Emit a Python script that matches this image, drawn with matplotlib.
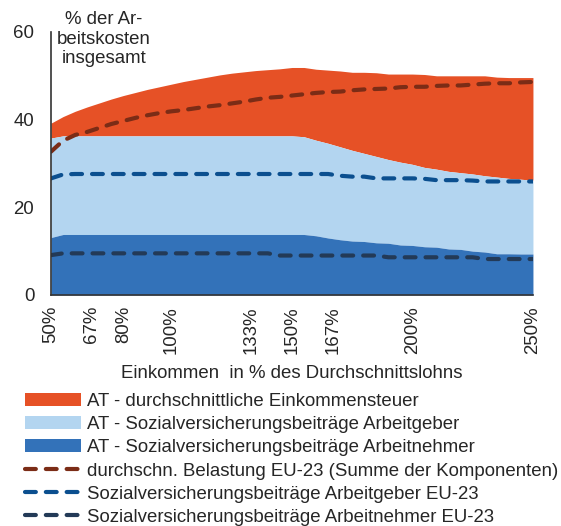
import numpy as np
import matplotlib
matplotlib.use("Agg")
import matplotlib.pyplot as plt

plt.rcParams['font.family'] = ['Liberation Sans', 'DejaVu Sans']

# income level in % of average wage
income = [50, 55, 60, 65, 70, 75, 80, 85, 90, 95, 100, 105, 110, 115, 120,
          125, 130, 135, 140, 145, 150, 155, 160, 165, 170, 175, 180, 185,
          190, 195, 200, 205, 210, 215, 220, 225, 230, 235, 240, 245, 250]

# AT, cumulative levels (% of total labour costs)
at_an = [13.1, 13.8, 13.8, 13.8, 13.8, 13.8, 13.8, 13.8, 13.8, 13.8, 13.8,
         13.8, 13.8, 13.8, 13.8, 13.8, 13.8, 13.8, 13.8, 13.8, 13.8, 13.8,
         13.5, 13.0, 12.6, 12.3, 12.2, 11.9, 11.8, 11.4, 11.3, 11.0, 10.9,
         10.5, 10.4, 10.0, 9.8, 9.4, 9.4, 9.35, 9.35]
at_sv = [35.8, 36.3, 36.3, 36.3, 36.3, 36.3, 36.3, 36.3, 36.3, 36.3, 36.3,
         36.3, 36.3, 36.3, 36.3, 36.3, 36.3, 36.3, 36.3, 36.3, 36.3, 36.1,
         35.3, 34.6, 33.8, 33.0, 32.3, 31.6, 30.9, 30.3, 29.8, 29.1, 28.7,
         28.2, 27.9, 27.6, 27.2, 26.9, 26.6, 26.4, 26.2]
at_total = [39.2, 40.7, 41.9, 42.9, 43.8, 44.7, 45.5, 46.2, 46.9, 47.5, 48.1,
            48.7, 49.2, 49.7, 50.2, 50.6, 50.9, 51.2, 51.4, 51.6, 51.9, 51.9,
            51.5, 51.3, 51.1, 50.8, 50.8, 50.7, 50.4, 50.4, 50.4, 50.3, 50.0,
            50.0, 50.0, 50.0, 50.0, 49.7, 49.6, 49.6, 49.6]

# EU-23 averages, cumulative levels
eu_total = [32.7, 35.2, 36.5, 37.2, 38.1, 39.0, 39.7, 40.4, 41.0, 41.5, 41.9,
            42.2, 42.6, 43.0, 43.3, 43.7, 44.1, 44.6, 45.0, 45.2, 45.5, 45.8,
            46.1, 46.3, 46.4, 46.7, 46.9, 47.0, 47.1, 47.4, 47.5, 47.5, 47.7,
            47.8, 47.8, 48.0, 48.2, 48.3, 48.3, 48.5, 48.6]
eu_ag = [26.6, 27.5, 27.6, 27.6, 27.6, 27.6, 27.6, 27.6, 27.6, 27.6, 27.6,
         27.6, 27.6, 27.6, 27.6, 27.6, 27.6, 27.6, 27.6, 27.6, 27.6, 27.6,
         27.6, 27.6, 27.2, 27.0, 27.0, 26.6, 26.6, 26.6, 26.6, 26.5, 26.2,
         26.2, 26.2, 26.1, 25.9, 25.9, 25.9, 25.9, 25.9]
eu_an = [9.1, 9.5, 9.5, 9.5, 9.5, 9.5, 9.5, 9.5, 9.5, 9.5, 9.5,
         9.5, 9.5, 9.5, 9.5, 9.5, 9.5, 9.5, 9.5, 9.0, 9.0, 9.0,
         9.0, 9.0, 9.0, 9.0, 9.0, 9.0, 8.6, 8.6, 8.6, 8.6, 8.6,
         8.6, 8.6, 8.6, 8.2, 8.2, 8.2, 8.2, 8.2]

xticks = [50, 67, 80, 100, 133, 150, 167, 200, 250]
xticklabels = ['50%', '67%', '80%', '100%', '133%', '150%', '167%', '200%', '250%']

labels = ['AT - durchschnittliche Einkommensteuer',
          'AT - Sozialversicherungsbeiträge Arbeitgeber',
          'AT - Sozialversicherungsbeiträge Arbeitnehmer',
          'durchschn. Belastung EU-23 (Summe der Komponenten)',
          'Sozialversicherungsbeiträge Arbeitgeber EU-23',
          'Sozialversicherungsbeiträge Arbeitnehmer EU-23']

txt = '#262626'
fs = 13.4
fig = plt.figure(figsize=(5.61, 5.26), dpi=100)
ax = fig.add_axes([0.0909, 0.4392, 0.8591, 0.5])

h1 = ax.fill_between(income, at_sv, at_total, color='#E65126', lw=0)
h2 = ax.fill_between(income, at_an, at_sv, color='#B3D5F0', lw=0)
h3 = ax.fill_between(income, 0, at_an, color='#3372B9', lw=0)

dash = dict(lw=3, dashes=(2.6, 2.4), dash_capstyle='round')
l1, = ax.plot(income, eu_total, color='#7B2C16', **dash)
l2, = ax.plot(income, eu_ag, color='#0B4F8F', **dash)
l3, = ax.plot(income, eu_an, color='#233A57', **dash)

ax.set_xlim(50, 250)
ax.set_ylim(0, 60)
ax.set_yticks([0, 20, 40, 60])
ax.set_xticks(xticks)
ax.set_xticklabels(xticklabels, rotation=90)
ax.tick_params(length=0, labelsize=fs, colors=txt)
ax.tick_params(axis='x', pad=8)
ax.tick_params(axis='y', pad=12)
for s in ['top', 'right']:
    ax.spines[s].set_visible(False)
for s in ['left', 'bottom']:
    ax.spines[s].set_color('#333333')
    ax.spines[s].set_linewidth(1.2)

ax.set_xlabel('Einkommen  in % des Durchschnittslohns', fontsize=fs,
              color=txt, labelpad=8)
fig.text(104/561, 1 - 39/526, '% der Ar-\nbeitskosten\ninsgesamt',
         ha='center', va='center', fontsize=fs, color=txt, linespacing=1.2)

fig.legend([h1, h2, h3, l1, l2, l3], labels, loc='upper left',
           bbox_to_anchor=(25/561, 1 - 393/526), frameon=False,
           fontsize=fs, labelcolor=txt, handlelength=3.0,
           handletextpad=0.35, labelspacing=0.33, borderpad=0,
           borderaxespad=0)

fig.savefig('out.png', dpi=100)
